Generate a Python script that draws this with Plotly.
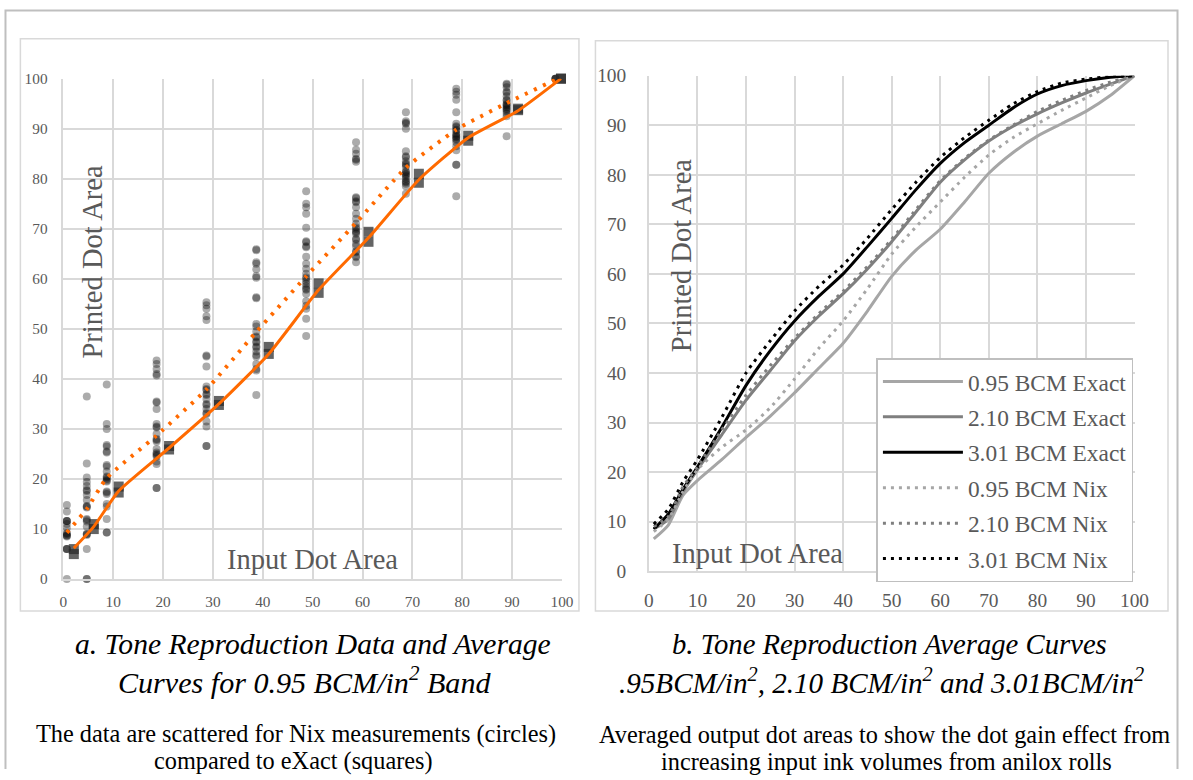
import plotly.graph_objects as go

# ---------------- data: panel a (0.95 BCM) ----------------
nix_input = [0.7, 4.7, 8.7, 18.7, 28.7, 38.7, 48.7, 58.7, 68.7, 78.8, 88.9, 98.7]
nix_values = [
    [14.8, 13.5, 11.6, 11.6, 11.6, 11.0, 10.2, 9.2, 9.0, 8.7, 8.7, 8.5, 6.0, 6.0, 6.0, 0.0],
    [36.5, 23.1, 20.3, 19.4, 18.6, 17.8, 17.6, 16.8, 15.8, 14.6, 14.5, 14.3, 12.0, 11.8, 11.5, 10.5, 9.0, 9.0, 8.8, 6.0, 0.0, 0.0],
    [38.9, 31.0, 30.0, 26.8, 26.5, 25.5, 25.3, 22.8, 22.5, 21.5, 20.5, 20.3, 20.0, 19.7, 19.5, 17.5, 17.3, 17.0, 15.0, 14.5, 12.0, 9.3, 9.3],
    [43.7, 43.0, 42.0, 41.0, 40.7, 35.5, 35.3, 34.0, 31.0, 30.5, 30.3, 29.0, 28.0, 27.8, 27.5, 26.0, 25.3, 25.0, 24.8, 24.5, 23.5, 23.0, 18.2, 18.2],
    [55.3, 54.7, 54.0, 52.5, 51.8, 44.7, 44.5, 42.5, 38.5, 38.0, 37.8, 37.0, 36.8, 36.0, 35.0, 34.8, 34.0, 33.2, 33.0, 31.5, 30.5, 26.6, 26.6],
    [65.9, 65.7, 63.3, 63.0, 61.9, 60.5, 60.2, 56.3, 56.1, 51.0, 50.5, 49.5, 48.5, 48.3, 47.5, 47.3, 46.5, 46.3, 45.5, 44.8, 44.5, 43.0, 42.0, 41.7, 36.8],
    [77.5, 75.0, 74.3, 73.0, 70.2, 67.5, 67.3, 66.5, 66.3, 64.4, 63.0, 62.0, 61.0, 60.3, 60.0, 59.5, 59.0, 58.5, 58.0, 57.8, 57.0, 55.5, 54.6, 54.0, 52.0, 48.6],
    [87.3, 85.8, 85.0, 84.0, 83.8, 83.4, 76.3, 76.1, 75.5, 75.3, 74.3, 73.0, 72.0, 71.0, 70.3, 70.0, 69.5, 69.3, 69.0, 68.0, 67.8, 67.0, 66.5, 65.5, 65.3, 64.5, 64.3, 63.3],
    [93.3, 91.5, 91.2, 91.0, 90.0, 85.5, 84.5, 84.3, 83.5, 83.0, 82.8, 82.4, 81.5, 81.3, 81.0, 80.8, 80.5, 80.0, 79.5, 79.3, 79.0, 78.5, 77.0],
    [98.0, 97.4, 96.8, 95.8, 93.3, 91.0, 90.5, 90.3, 89.8, 89.6, 89.0, 88.8, 88.5, 88.3, 88.0, 87.8, 87.3, 86.5, 85.7, 82.8, 82.8, 76.5],
    [99.0, 98.8, 98.3, 97.4, 97.2, 96.5, 95.8, 95.6, 95.0, 94.8, 94.6, 94.3, 94.0, 93.8, 93.5, 93.0, 92.5, 88.5],
    [100.0, 100.0, 100.0, 100.0],
]
exact_input = [2.1, 6.1, 11.1, 21.2, 31.2, 41.2, 51.2, 61.2, 71.3, 81.2, 91.2, 99.8]
exact_run_a = [6.0, 11.0, 18.5, 26.6, 35.6, 46.4, 59.1, 69.4, 81.0, 88.6, 94.0, 100.0]
exact_run_b = [5.0, 10.0, 17.3, 25.9, 34.8, 45.0, 57.2, 67.4, 79.2, 87.6, 93.7, 100.0]
exact_avg = [6.2, 10.5, 17.6, 26.2, 35.0, 45.0, 57.8, 68.2, 79.8, 88.2, 93.6, 100.0]
nix_avg = [9.3, 14.0, 20.2, 28.7, 37.9, 49.4, 60.5, 71.2, 82.2, 89.8, 95.1, 99.8]

# ---------------- data: panel b (average curves) ----------------
input_b = [1, 4, 7, 10, 15, 20, 25, 30, 35, 40, 45, 50, 55, 60, 65, 70, 75, 80, 85, 90, 95, 100]
exact_095 = [6.5, 9.3, 15.3, 18.3, 22.5, 27.0, 31.3, 36.0, 41.0, 46.0, 52.5, 59.5, 64.8, 69.0, 74.5, 80.3, 84.5, 87.8, 90.3, 92.8, 96.0, 100.0]
exact_210 = [8.5, 10.5, 16.0, 20.5, 27.5, 34.5, 40.5, 46.5, 51.5, 56.0, 61.0, 66.5, 72.5, 78.5, 83.0, 86.8, 89.8, 92.3, 94.5, 96.5, 98.3, 100.0]
exact_301 = [8.5, 11.5, 16.5, 21.0, 29.0, 37.5, 44.5, 50.5, 55.5, 60.0, 65.5, 71.2, 77.0, 82.3, 86.5, 90.0, 93.5, 96.3, 98.0, 99.0, 99.7, 100.0]
nix_095 = [8.0, 10.5, 16.0, 20.5, 25.0, 28.5, 33.0, 38.8, 45.0, 50.5, 57.0, 64.0, 69.5, 74.5, 79.5, 84.0, 87.5, 90.3, 93.0, 95.5, 98.0, 100.0]
nix_210 = [9.0, 11.0, 17.0, 21.0, 28.5, 35.5, 41.5, 47.0, 52.0, 56.5, 61.5, 67.0, 73.0, 78.8, 83.3, 87.0, 90.0, 92.8, 95.0, 97.0, 98.7, 100.0]
nix_301 = [9.5, 12.5, 18.0, 22.5, 31.0, 40.0, 46.5, 52.5, 57.5, 61.8, 67.2, 73.0, 78.5, 83.5, 87.5, 91.0, 94.3, 96.8, 98.5, 99.3, 99.8, 100.0]

series_b = [
    ("0.95 BCM Exact", exact_095, "#A6A6A6", "solid"),
    ("2.10 BCM Exact", exact_210, "#7F7F7F", "solid"),
    ("3.01 BCM Exact", exact_301, "#000000", "solid"),
    ("0.95 BCM Nix", nix_095, "#A6A6A6", "3px,5px"),
    ("2.10 BCM Nix", nix_210, "#7F7F7F", "3px,5px"),
    ("3.01 BCM Nix", nix_301, "#000000", "3px,5px"),
]

FONT = "Liberation Serif, Times New Roman, serif"
GRID = "#D9D9D9"
TXT = "#595959"
ORANGE = "#FF6A00"
W, H = 1193, 780

# the photographed page shows the figure slightly shrunk and shifted;
# these map wanted screen pixels to figure pixels
AX, BX, AY, BY = 5.6, 0.984, 9.0, 0.978
FS = 1 / 0.981


def px(r):
    return min(max((r - AX) / BX, 0.5), W - 0.5) / W


def py(r):
    return 1 - min(max((r - AY) / BY, 0.5), H - 0.5) / H


def f(s):
    return round(s * FS, 1)


fig = go.Figure()

# panel a scatter
cx, cy = [], []
for x, vals in zip(nix_input, nix_values):
    for v in vals:
        cx.append(x)
        cy.append(v)
fig.add_trace(go.Scatter(x=cx, y=cy, mode="markers", showlegend=False, cliponaxis=False,
                         marker=dict(symbol="circle", size=8, color="rgba(0,0,0,0.33)", line=dict(width=0)),
                         xaxis="x", yaxis="y"))
for run in (exact_run_a, exact_run_b):
    fig.add_trace(go.Scatter(x=exact_input, y=run, mode="markers", showlegend=False, cliponaxis=False,
                             marker=dict(symbol="square", size=10, color="rgba(40,40,40,0.72)", line=dict(width=0)),
                             xaxis="x", yaxis="y"))
fig.add_trace(go.Scatter(x=exact_input, y=exact_avg, mode="lines", showlegend=False, cliponaxis=False,
                         line=dict(color=ORANGE, width=3, shape="spline", smoothing=0.5),
                         xaxis="x", yaxis="y"))
fig.add_trace(go.Scatter(x=nix_input, y=nix_avg, mode="lines", showlegend=False, cliponaxis=False,
                         line=dict(color=ORANGE, width=4, dash="3px,7px", shape="spline", smoothing=0.5),
                         xaxis="x", yaxis="y"))

# panel b curves
for i, (name, vals, col, dash) in enumerate(series_b):
    fig.add_trace(go.Scatter(x=input_b, y=vals, mode="lines", name=name, legendgroup=f"g{i}",
                             line=dict(color=col, width=3, dash=dash, shape="spline", smoothing=0.6),
                             cliponaxis=False, xaxis="x2", yaxis="y2"))


def ax(domain, size, anchor, standoff):
    return dict(domain=domain, range=[0, 100], dtick=10, tick0=0, showgrid=True, gridcolor=GRID,
                gridwidth=1.5, zeroline=False, showline=True, linecolor=GRID, linewidth=1.5,
                ticks="", tickfont=dict(family=FONT, size=f(size), color=TXT), anchor=anchor,
                ticklabelstandoff=standoff, fixedrange=True)


# shapes: panel boxes and outer border
shapes = [
    dict(type="rect", xref="paper", yref="paper", x0=px(21), x1=px(580), y0=py(613), y1=py(38),
         line=dict(color=GRID, width=1.5), layer="below"),
    dict(type="rect", xref="paper", yref="paper", x0=px(596.5), x1=px(1169.5), y0=py(613), y1=py(40),
         line=dict(color=GRID, width=1.5), layer="below"),
    dict(type="path", xref="paper", yref="paper",
         path=f"M {px(4.5)} 0 L {px(4.5)} {py(5)} L {px(1190)} {py(5)} L {px(1190)} 0",
         line=dict(color="#BFBFBF", width=2), layer="below"),
]


def ann(text, x, y, size, color="#000000", angle=0):
    return dict(text=text, x=px(x), y=py(y), xref="paper", yref="paper", showarrow=False,
                xanchor="center", yanchor="middle", textangle=angle,
                font=dict(family=FONT, size=f(size), color=color))


annotations = [
    ann("Printed Dot Area", 93.5, 262, 28, TXT, -90),
    ann("Input Dot Area", 313, 561.5, 28, TXT),
    ann("Printed Dot Area", 682.5, 256, 28, TXT, -90),
    ann("Input Dot Area", 759, 555, 28, TXT),
    ann("<i>a. Tone Reproduction Data and Average</i>", 314, 646, 29),
    ann("<i>Curves for 0.95 BCM/in<sup>2</sup> Band</i>", 305, 683, 29.5),
    ann("The data are scattered for Nix measurements (circles)", 296.5, 737, 23.8),
    ann("compared to eXact (squares)", 294.5, 764, 23.8),
    ann("<i>b. Tone Reproduction Average Curves</i>", 891, 646, 28.2),
    ann("<i>.95BCM/in<sup>2</sup>, 2.10 BCM/in<sup>2</sup> and 3.01BCM/in<sup>2</sup></i>", 883, 683, 28.5),
    ann("Averaged output dot areas to show the dot gain effect from", 886, 737, 23.8),
    ann("increasing input ink volumes from anilox rolls", 887.5, 764, 23.8),
]

fig.update_layout(
    width=W, height=H, autosize=False, margin=dict(l=0, r=0, t=0, b=0, pad=0),
    paper_bgcolor="white", plot_bgcolor="white",
    xaxis=ax([px(64), px(563)], 15, "y", 8),
    yaxis=ax([py(581), py(78)], 15, "x", 11),
    xaxis2=ax([px(650), px(1136)], 19, "y2", 11),
    yaxis2=ax([py(573), py(75)], 19, "x2", 17),
    showlegend=True,
    legend=dict(x=px(877.7), y=py(359), xanchor="left", yanchor="top",
                bgcolor="white", bordercolor="#BFBFBF", borderwidth=1.5,
                font=dict(family=FONT, size=f(23), color=TXT), itemwidth=80,
                tracegroupgap=2, traceorder="grouped"),
    shapes=shapes, annotations=annotations,
)

page_fix = ("document.documentElement.style.margin='0';document.documentElement.style.padding='0';"
            "document.body.style.margin='0';document.body.style.padding='0';"
            "document.body.style.overflow='hidden';document.documentElement.style.overflow='hidden';")

fig.write_html("out.html", post_script=page_fix, config={"displayModeBar": False})
